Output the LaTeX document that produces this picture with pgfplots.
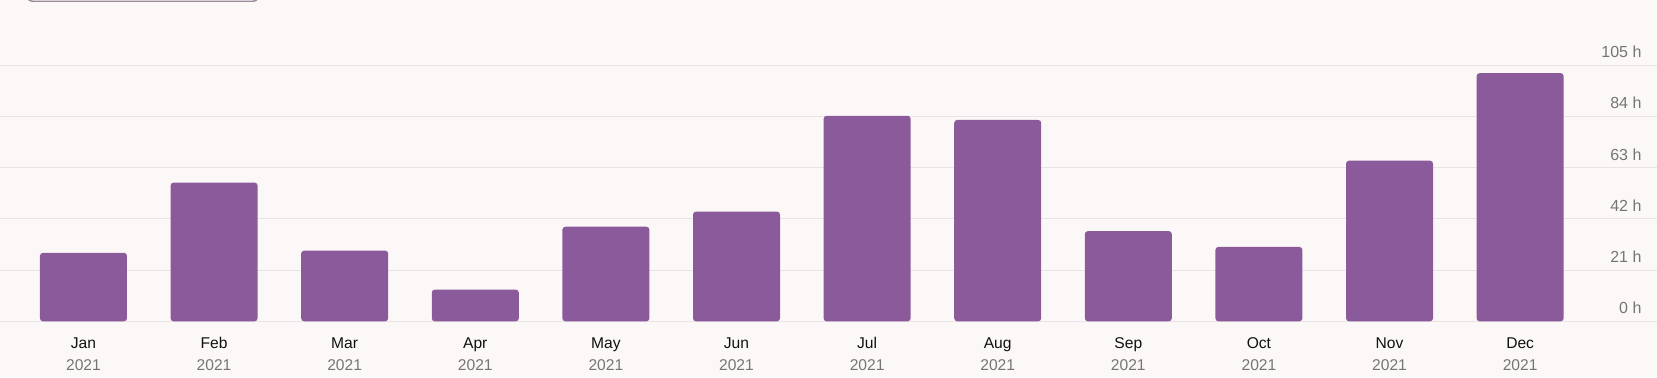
\documentclass[border=0pt]{standalone}
\usepackage{pgfplots}
\pgfplotsset{compat=1.18}
\usepackage{fontspec}
\setmainfont{Liberation Sans}
\definecolor{bgc}{HTML}{FDF8F8}
\definecolor{barc}{HTML}{8A5A9A}
\definecolor{gridc}{HTML}{E8E3E5}
\definecolor{labc}{HTML}{757575}
\definecolor{monc}{HTML}{111111}
\definecolor{topc}{HTML}{978A9A}
\begin{document}
\begin{tikzpicture}
\fill[bgc] (0,0) rectangle (828.5pt,-188.5pt);
\path[use as bounding box] (0,0) rectangle (828.5pt,-188.5pt);
\draw[topc, line width=0.7pt, fill=bgc, rounded corners=3pt] (13.3pt,10pt) rectangle (129.5pt,-0.6pt);
\begin{axis}[
  at={(0,0)}, anchor=north west,
  scale only axis, width=828.5pt, height=160.65pt,
  xmin=-0.639, xmax=12.048, ymin=0, ymax=131.8,
  ybar, bar width=43.5pt,
  axis line style={draw=none}, tick style={draw=none},
  ymajorgrids, grid style={gridc, line width=0.5pt},
  ytick={0,21,42,63,84,105},
  yticklabels={0 h,21 h,42 h,63 h,84 h,105 h},
  yticklabel pos=right,
  yticklabel style={anchor=base east, inner sep=0pt, xshift=-7.6pt, yshift=3.85pt, text=labc, font=\fontsize{8}{9.6}\selectfont},
  xtick={0,...,11},
  xticklabels={{Jan\\\textcolor{labc}{2021}},{Feb\\\textcolor{labc}{2021}},{Mar\\\textcolor{labc}{2021}},{Apr\\\textcolor{labc}{2021}},{May\\\textcolor{labc}{2021}},{Jun\\\textcolor{labc}{2021}},{Jul\\\textcolor{labc}{2021}},{Aug\\\textcolor{labc}{2021}},{Sep\\\textcolor{labc}{2021}},{Oct\\\textcolor{labc}{2021}},{Nov\\\textcolor{labc}{2021}},{Dec\\\textcolor{labc}{2021}}},
  xticklabel style={align=center, anchor=base, inner sep=0pt, yshift=-20.1pt, text=monc, font=\fontsize{7.8}{11}\selectfont},
]
\addplot[fill=barc, draw=none, rounded corners=1.5pt] coordinates {
(0,28.1) (1,56.9) (2,29.0) (3,13.0) (4,38.8) (5,45.0)
(6,84.3) (7,82.6) (8,37.0) (9,30.5) (10,65.9) (11,101.8)};
\end{axis}
\end{tikzpicture}
\end{document}
